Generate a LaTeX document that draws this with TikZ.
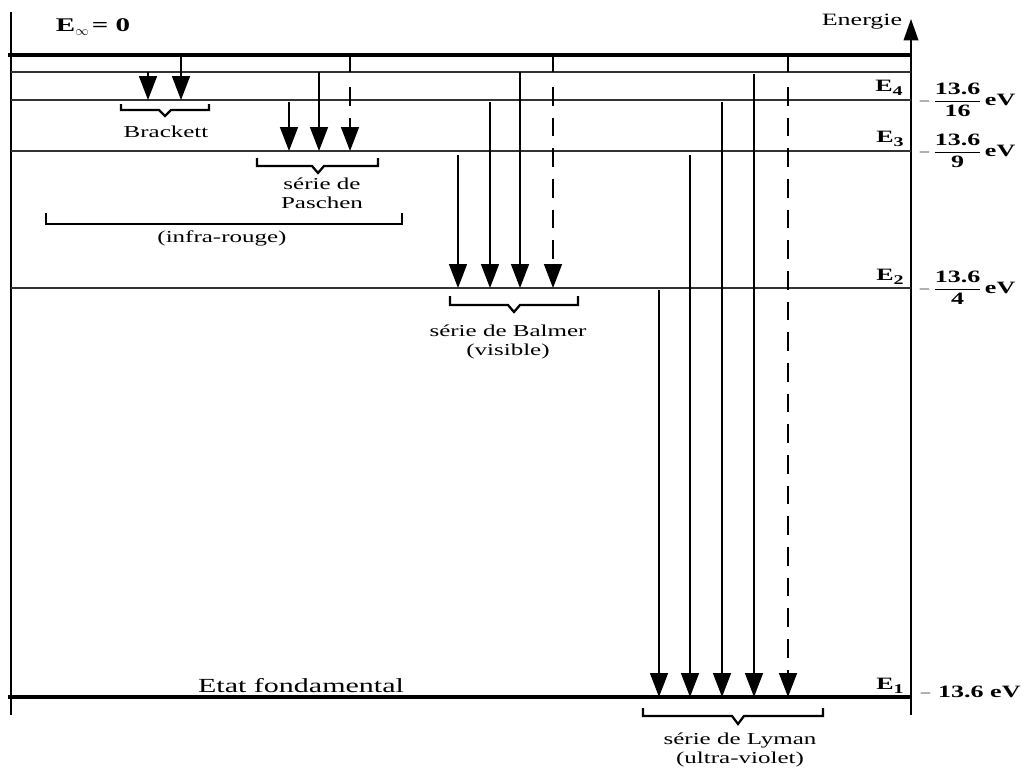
\documentclass[tikz,border=0pt]{standalone}
\usepackage{fontspec}
\setmainfont{Liberation Serif}[FakeStretch=1.5]
\usetikzlibrary{arrows.meta}
\newcommand{\efrac}[2]{$-\,\displaystyle\frac{\mbox{\bfseries #1}}{\mbox{\bfseries #2}}$\,eV}
\newcommand{\elev}[1]{E\raisebox{-0.45ex}{\fontsize{10}{11}\selectfont #1}}
\begin{document}
\begin{tikzpicture}[x=0.75pt,y=-0.75pt,
  level/.style={line width=0.8pt, draw=black!80},
  thicklevel/.style={line width=3.5pt},
  axis/.style={line width=1.1pt},
  trans/.style={line width=1.2pt, -{Triangle[length=18pt,width=13.5pt]}},
  dtrans/.style={trans, dash pattern=on 14pt off 9pt},
  brace/.style={line width=1.7pt},
  lbl/.style={font=\fontsize{12.5}{14}\selectfont, align=center, inner sep=0pt},
  elbl/.style={font=\fontsize{13}{14}\selectfont\bfseries, inner sep=0pt},
  vlbl/.style={font=\fontsize{13}{14}\selectfont\bfseries, anchor=west, inner sep=0pt},
  big/.style={inner sep=0pt, font=\fontsize{12}{13}\selectfont},
]
\useasboundingbox (0,0) rectangle (1035,771);

% axes
\coordinate (axL0) at (11,12);
\coordinate (axL1) at (11,715);
\coordinate (axR0) at (911,715);
\coordinate (axR1) at (911,19);
\draw[axis] (axL0) -- (axL1);
\draw[axis, -{Triangle[length=16pt,width=11pt]}] (axR0) -- (axR1);

% levels
\coordinate (inf0) at (8,55);   \coordinate (inf1) at (911,55);
\coordinate (n50) at (11,72);   \coordinate (n51) at (911,72);
\coordinate (n40) at (11,100);  \coordinate (n41) at (911,100);
\coordinate (n30) at (11,151);  \coordinate (n31) at (911,151);
\coordinate (n20) at (11,288);  \coordinate (n21) at (911,288);
\coordinate (n10) at (8,697);   \coordinate (n11) at (911,697);
\draw[thicklevel] (inf0) -- (inf1);
\draw[level] (n50) -- (n51);
\draw[level] (n40) -- (n41);
\draw[level] (n30) -- (n31);
\draw[level] (n20) -- (n21);
\draw[thicklevel] (n10) -- (n11);

% solid transitions: name / x / start y / end y
\foreach \nm/\xx/\ys/\ye in {
  b1/148/72/100, b2/181/55/100,
  p1/289/102/151, p2/319/72/151,
  h1/458/155/288, h2/490/102/288, h3/520/72/288,
  l1/659/290/697, l2/690/155/697, l3/722/102/697, l4/754/74/697}{
  \coordinate (\nm s) at (\xx,\ys);
  \coordinate (\nm e) at (\xx,\ye);
  \draw[trans] (\nm s) -- (\nm e);
}
% transitions from infinity (solid stub, then dashed)
\foreach \nm/\xx/\ye in {p3/350/151, h4/553/288, l5/788/697}{
  \coordinate (\nm a) at (\xx,55);
  \coordinate (\nm b) at (\xx,72);
  \coordinate (\nm c) at (\xx,87);
  \coordinate (\nm e) at (\xx,\ye);
  \draw[axis] (\nm a) -- (\nm b);
  \draw[dtrans] (\nm c) -- (\nm e);
}

% brackets
\draw[brace] (121,104) -- (121,110) -- (159,110) -- (165,116) -- (171,110) -- (209,110) -- (209,104);
\node[lbl] (brackett) at (166,132) {Brackett};

\draw[brace] (257,158) -- (257,166) -- (312,166) -- (318,173) -- (324,166) -- (378,166) -- (378,158);
\node[lbl] (paschen) at (322,193) {série de\\Paschen};

\draw[brace] (46,213) -- (46,224) -- (402,224) -- (402,213);
\node[lbl] (ir) at (222,238) {(infra-rouge)};

\draw[brace] (450,296) -- (450,305) -- (508,305) -- (514,312) -- (520,305) -- (578,305) -- (578,296);
\node[lbl] (balmer) at (508,342) {série de Balmer\\(visible)};

\draw[brace] (643,708) -- (643,716) -- (732,716) -- (738,724) -- (744,716) -- (823,716) -- (823,708);
\node[lbl] (lyman) at (740,750) {série de Lyman\\(ultra-violet)};

% labels
\node[big, font=\fontsize{14.5}{15}\selectfont\bfseries] (einf) at (93,27) {E\raisebox{-0.5ex}{\fontsize{10}{11}\selectfont$\infty$}\,= 0};
\node[big, font=\fontsize{13}{14}\selectfont] (energie) at (862,22) {Energie};
\node[big, font=\fontsize{15}{16}\selectfont] (fond) at (301,686) {Etat fondamental};

\node[elbl] (E4) at (889,88) {\elev{4}};
\node[elbl] (E3) at (890,139) {\elev{3}};
\node[elbl] (E2) at (890,277) {\elev{2}};
\node[elbl] (E1) at (890,686) {\elev{1}};

\node[vlbl] (v4) at (918,100) {\efrac{13.6}{16}};
\node[vlbl] (v3) at (918,151) {\efrac{13.6}{9}};
\node[vlbl] (v2) at (918,288) {\efrac{13.6}{4}};
\node[vlbl] (v1) at (919,692) {$-$ 13.6 eV};
\end{tikzpicture}
\end{document}
